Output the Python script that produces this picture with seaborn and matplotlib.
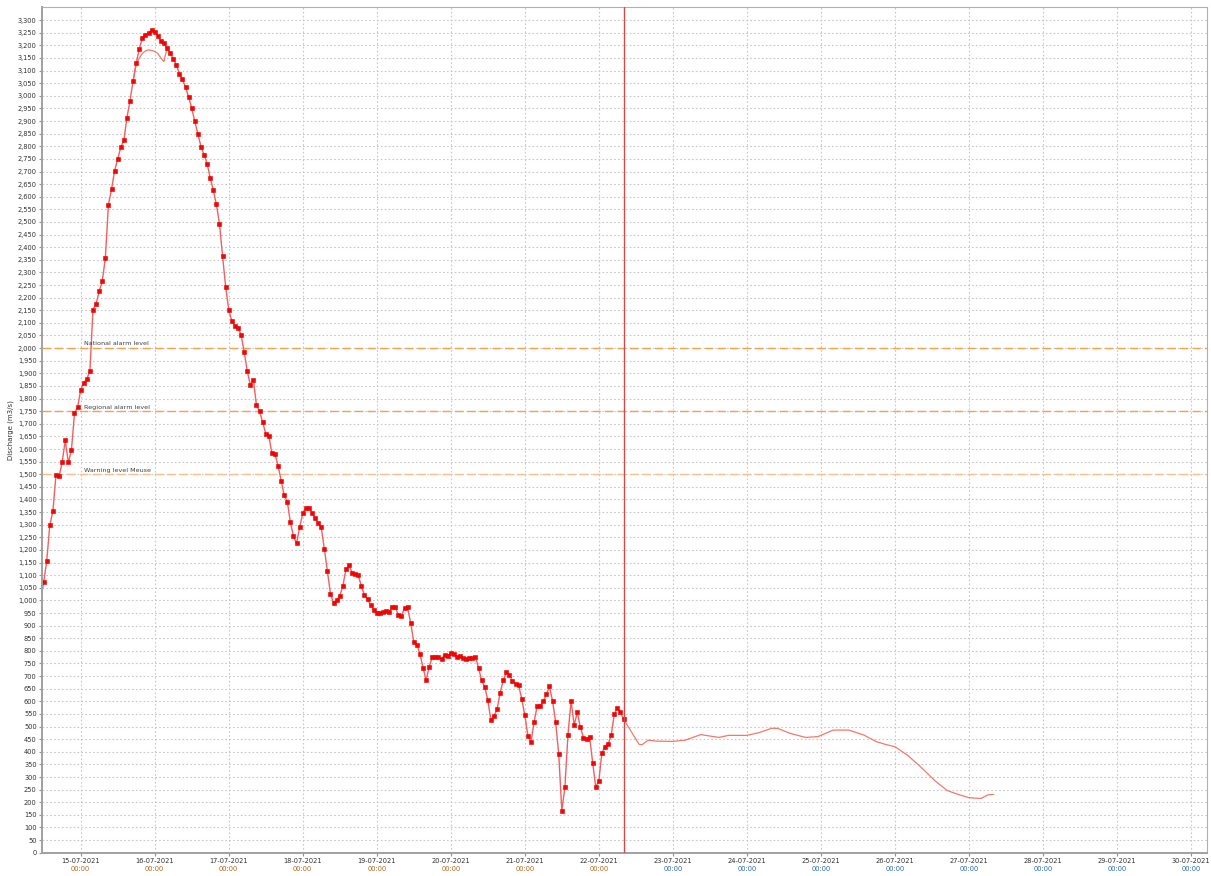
import numpy as np
import pandas as pd
import matplotlib
matplotlib.use("Agg")
import matplotlib.pyplot as plt
import seaborn as sns

# ---- data ----
obs_start = "2021-07-14 11:00"
obs_values = [
    1000, 1071, 1157, 1299, 1353, 1498, 1492, 1547, 1634, 1547, 1595, 1741, 1765,
    1834, 1863, 1877, 1911, 2153, 2175, 2225, 2265, 2357, 2569, 2629, 2703, 2748,
    2796, 2823, 2913, 2981, 3059, 3129, 3186, 3229, 3243, 3250, 3260, 3253, 3237,
    3219, 3209, 3189, 3170, 3147, 3124, 3088, 3065, 3034, 2996, 2951, 2899, 2849,
    2799, 2766, 2731, 2675, 2626, 2570, 2493, 2366, 2244, 2152, 2108, 2088, 2081,
    2053, 1986, 1910, 1854, 1874, 1773, 1749, 1707, 1661, 1652, 1583, 1580, 1534,
    1475, 1416, 1392, 1309, 1254, 1226, 1290, 1345, 1365, 1368, 1347, 1325, 1307,
    1289, 1205, 1116, 1026, 991, 1000, 1018, 1057, 1123, 1139, 1110, 1103, 1099,
    1057, 1021, 1005, 983, 963, 952, 952, 954, 958, 955, 975, 975, 941, 938, 969,
    972, 909, 837, 824, 788, 734, 683, 737, 775, 774, 775, 767, 785, 780, 791,
    787, 777, 780, 770, 767, 771, 771, 777, 732, 683, 657, 605, 525, 542, 568,
    634, 683, 716, 705, 680, 670, 663, 610, 544, 464, 440, 518, 581, 582, 600,
    628, 659, 601, 517, 390, 166, 260, 468, 602, 505, 556, 498, 456, 452, 460,
    357, 260, 285, 396, 420, 431, 465, 548, 575, 556, 530,
]

# simulated line around the peak (hourly)
sim_start = "2021-07-15 17:00"
sim_values = [3059, 3125, 3150, 3168, 3178, 3182, 3180, 3176, 3168, 3150, 3136, 3189]

# forecast after the last observation (hours after 22-07-2021 00:00)
fc_hours = [8, 11, 13, 14, 16, 19, 24, 28, 33, 39, 42, 48, 52, 56, 58, 62, 67, 71,
            76, 81, 86, 90, 93, 96, 100, 104, 109, 113, 117, 120, 124, 126, 128]
fc_values = [530, 470, 430, 428, 446, 442, 441, 446, 468, 457, 465, 465, 476, 493,
             493, 473, 457, 460, 486, 486, 466, 440, 429, 420, 387, 344, 285, 246,
             229, 218, 215, 229, 231]

levels = [2000, 1750, 1500]
level_names = ["National alarm level", "Regional alarm level", "Warning level Meuse"]
level_colors = ["#f5a04a", "#f5a04a", "#f8bf8a"]

now_time = pd.Timestamp("2021-07-22 08:00")
tick_days = pd.date_range("2021-07-15", "2021-07-30", freq="D")

obs = pd.DataFrame({"time": pd.date_range(obs_start, periods=len(obs_values), freq="h"),
                    "discharge": obs_values})
sim = pd.DataFrame({"time": pd.date_range(sim_start, periods=len(sim_values), freq="h"),
                    "discharge": sim_values})
fc = pd.DataFrame({"time": pd.Timestamp("2021-07-22") + pd.to_timedelta(fc_hours, unit="h"),
                   "discharge": fc_values})

# ---- plot ----
sns.set_style("white")
plt.rcParams["font.family"] = ["DejaVu Sans"]

fig = plt.figure(figsize=(12.11, 8.76), dpi=100)
ax = fig.add_axes([0.0349, 0.0266, 0.9622, 0.9654])

sns.lineplot(data=sim, x="time", y="discharge", ax=ax, color="#f07a6a", linewidth=0.9)
sns.lineplot(data=fc, x="time", y="discharge", ax=ax, color="#f07a6a", linewidth=0.9)
# first point sits just left of the axis, so skip its marker
sns.lineplot(data=obs, x="time", y="discharge", ax=ax, color="#f06060", linewidth=1.0,
             marker="s", markersize=3.5, markerfacecolor="#ff0000",
             markeredgecolor="#e00000", markeredgewidth=0.4,
             markevery=slice(1, None))

for lvl, name, col in zip(levels, level_names, level_colors):
    ax.axhline(lvl, color=col, linestyle=(0, (6, 3)), linewidth=1.0, zorder=1)
    ax.annotate(name, xy=(pd.Timestamp("2021-07-15 01:00"), lvl), xytext=(0, 1.2),
                textcoords="offset points", fontsize=4.6, color="#404040",
                ha="left", va="bottom")

ax.axvline(now_time, color="#d04848", linewidth=1.0, zorder=3)

ax.set_xlim(pd.Timestamp("2021-07-14 11:33"), pd.Timestamp("2021-07-30 05:20"))
ax.set_ylim(0, 3352)
ax.set_yticks(np.arange(0, 3301, 50))
ax.set_yticklabels([f"{v:,}" for v in range(0, 3301, 50)])
ax.set_xticks(tick_days)
ax.set_xticklabels([d.strftime("%d-%m-%Y") for d in tick_days])

ax.grid(True, linestyle=(0, (1.5, 2)), color="#c8c8c8", linewidth=0.8)
ax.set_axisbelow(True)

ax.tick_params(axis="both", labelsize=4.8, colors="#303030", length=2.5, width=0.8,
               pad=1.5, direction="out", left=True, bottom=True)
ax.tick_params(axis="both", color="#909090")

for d in tick_days:
    col = "#b0641a" if d <= pd.Timestamp("2021-07-22") else "#2468b0"
    ax.annotate("00:00", xy=(d, 0), xycoords=("data", "axes fraction"),
                xytext=(0, -11.5), textcoords="offset points", fontsize=4.8,
                color=col, ha="center", va="center")

for side in ["top", "right"]:
    ax.spines[side].set_color("#b0b0b0")
    ax.spines[side].set_linewidth(0.8)
for side in ["left", "bottom"]:
    ax.spines[side].set_color("#a0a0a0")
    ax.spines[side].set_linewidth(1.4)

ax.set_xlabel("")
ax.set_ylabel("Discharge (m3/s)", fontsize=5, color="#303030", labelpad=3)

fig.savefig("out.png", dpi=100)
